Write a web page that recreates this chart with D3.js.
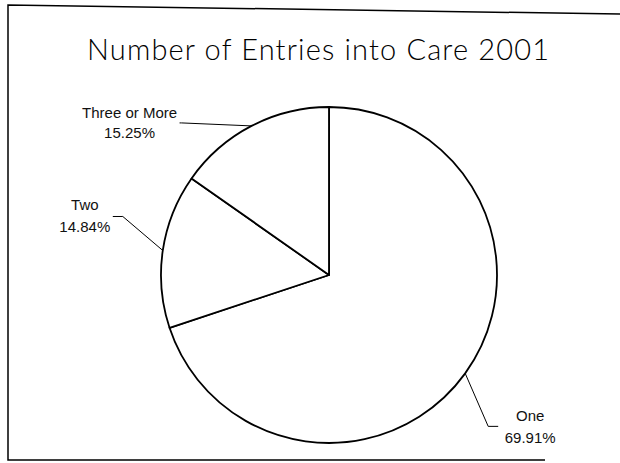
<!DOCTYPE html>
<head lang="en">
<meta charset="utf-8">
<title>Number of Entries into Care 2001</title>
<style>
body { margin:0; background:#fff; }
text { font-family:"Liberation Sans","Arial",sans-serif; }
</style>
<script src="https://cdnjs.cloudflare.com/ajax/libs/d3/7.8.5/d3.min.js"></script>
</head>
<body>
<script>
// chart data
var categories = ["One", "Two", "Three or More"];
var percents = [69.91, 14.84, 15.25];

var width = 620,
	height = 463;

var svg = d3.select("body").append("svg")
	.attr("width", width)
	.attr("height", height);

// scanned frame (slightly tilted top edge)
svg.append("path")
	.attr("d", "M620,14 L8,5 L8,460 L545,460")
	.style("fill", "none")
	.style("stroke", "black")
	.style("stroke-width", "1.5px");

// title
svg.append("text")
	.attr("x", 318)
	.attr("y", 60)
	.attr("text-anchor", "middle")
	.attr("textLength", 462)
	.style("font-family", "'Lato','Open Sans',sans-serif")
	.style("font-weight", "300")
	.style("font-size", "29px")
	.text("Number of Entries into Care 2001");

// pie, clockwise from 12 o'clock, in data order
var cx = 329, cy = 275, radius = 168;
var pie = d3.pie().sort(null).value(function(d) { return d; });
var arcs = pie(percents);
var arc = d3.arc().innerRadius(0).outerRadius(radius);

var g = svg.append("g").attr("transform", "translate(" + cx + "," + cy + ")");

g.selectAll("path.slice")
	.data(arcs)
	.enter()
	.append("path")
		.attr("class", "slice")
		.attr("d", arc)
		.style("fill", "white")
		.style("stroke", "black")
		.style("stroke-width", "1.8px")
		.style("stroke-linejoin", "round");

// leader lines: from arc midpoint to an elbow then to the label
// layout offsets per slice (relative to the arc midpoint)
var leaderLayout = [
	{ elbow: [23, 53], end: [33, 53], tx: 65, ty: 48, gap: 22 },
	{ elbow: [-40, -34], end: [-50, -34], tx: -78, ty: -40, gap: 22 },
	{ elbow: [-70, -3], end: [-72, -3], tx: -122, ty: -8, gap: 20 }
];

function arcPoint(d) {
	var a = (d.startAngle + d.endAngle) / 2;
	return [radius * Math.sin(a), -radius * Math.cos(a)];
}

g.selectAll("polyline.leader")
	.data(arcs)
	.enter()
	.append("polyline")
		.attr("class", "leader")
		.attr("points", function(d, i) {
			var p = arcPoint(d), L = leaderLayout[i];
			return [p, [p[0] + L.elbow[0], p[1] + L.elbow[1]], [p[0] + L.end[0], p[1] + L.end[1]]]
				.map(function(q) { return q.join(","); }).join(" ");
		})
		.style("fill", "none")
		.style("stroke", "black")
		.style("stroke-width", "1px");

var labels = g.selectAll("g.label")
	.data(arcs)
	.enter()
	.append("g")
		.attr("class", "label")
		.attr("transform", function(d, i) {
			var p = arcPoint(d), L = leaderLayout[i];
			return "translate(" + (p[0] + L.tx) + "," + (p[1] + L.ty) + ")";
		});

labels.append("text")
	.attr("text-anchor", "middle")
	.style("font-size", "15px")
	.style("fill", "#111")
	.text(function(d, i) { return categories[i]; });

labels.append("text")
	.attr("text-anchor", "middle")
	.attr("y", function(d, i) { return leaderLayout[i].gap; })
	.style("font-size", "15px")
	.style("fill", "#111")
	.text(function(d, i) { return percents[i].toFixed(2) + "%"; });
</script>
</body>
</html>
